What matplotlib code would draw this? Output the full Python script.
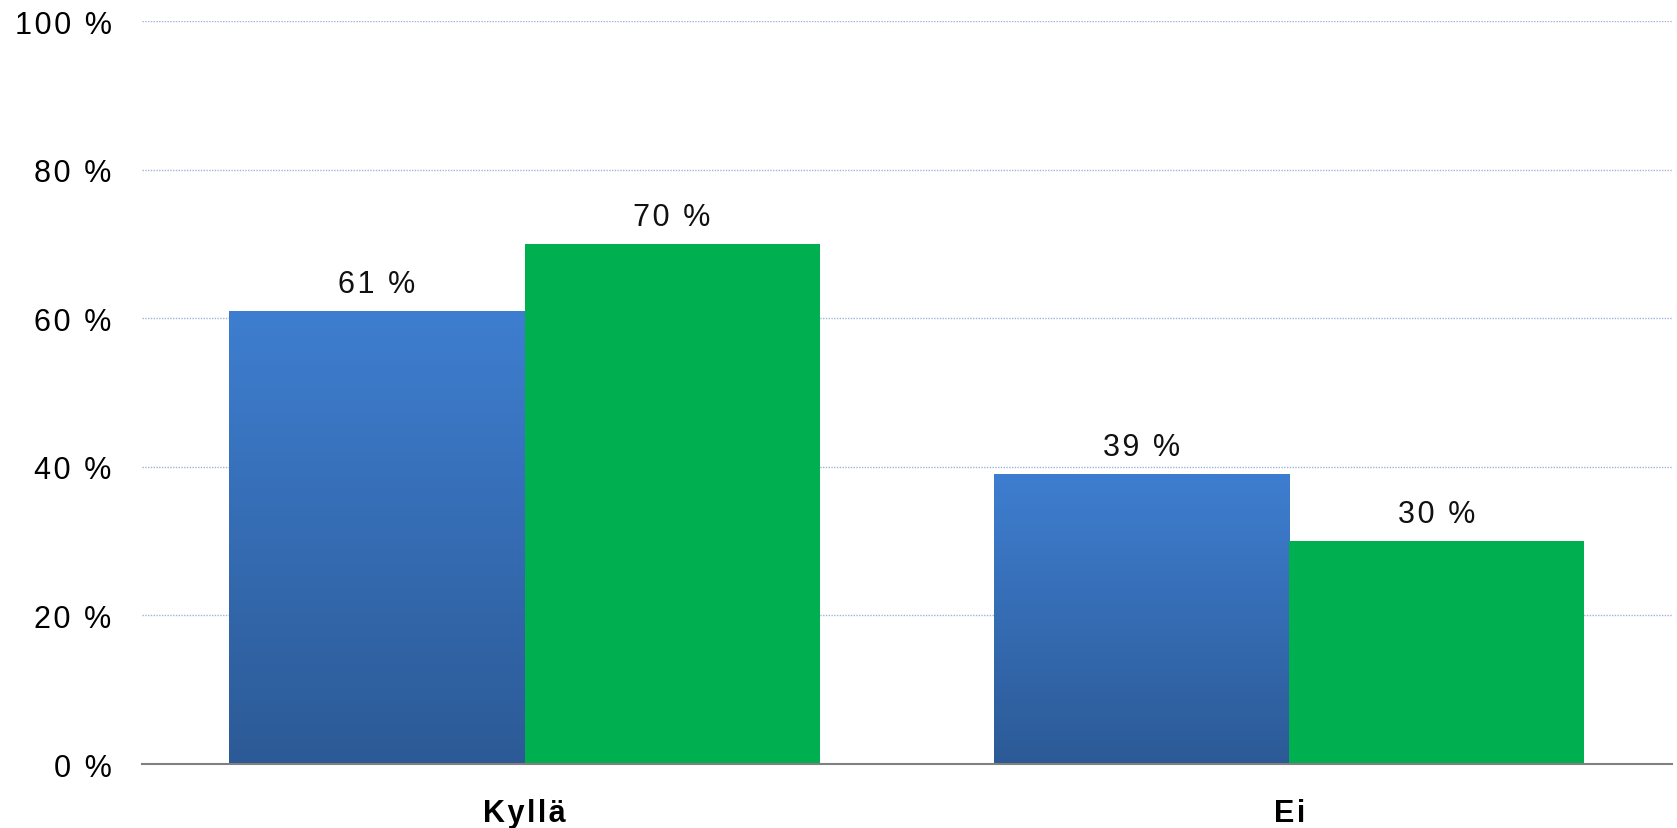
import matplotlib
matplotlib.use("Agg")
import matplotlib.pyplot as plt
import numpy as np
from matplotlib.colors import LinearSegmentedColormap

categories = ["Kyllä", "Ei"]
series_a = [61, 39]
series_b = [70, 30]
yticks = [0, 20, 40, 60, 80, 100]
ytick_labels = ["0 %", "20 %", "40 %", "60 %", "80 %", "100 %"]

plt.rcParams['font.family'] = ['Liberation Sans', 'DejaVu Sans']

HS = "\u200a"


def spaced(s):
    return HS.join(s)


fig = plt.figure(figsize=(16.77, 8.29), dpi=100)
ax = fig.add_axes([0.0848, 0.0772, 0.9120, 0.8957])

x = np.arange(len(categories))
w = 0.386
blue_cmap = LinearSegmentedColormap.from_list("bl", ["#2C5A96", "#3E7ED0"])
green = "#00B050"

ax.set_xlim(-0.5, len(categories) - 0.5)
ax.set_ylim(0, 100)

for i in range(len(categories)):
    bar = ax.bar(x[i] - w / 2, series_a[i], width=w, color="none", zorder=2)[0]
    grad = np.linspace(0, 1, 256).reshape(-1, 1)
    im = ax.imshow(grad, cmap=blue_cmap, origin="lower", aspect="auto",
                   extent=[x[i] - w, x[i], 0, series_a[i]], zorder=2)
    im.set_clip_path(bar)
    ax.bar(x[i] + w / 2, series_b[i], width=w, color=green, zorder=2)
    ax.text(x[i] - w / 2, series_a[i] + 2.6, spaced(f"{series_a[i]} %"), ha="center",
            va="baseline", fontsize=22, color="#111111")
    ax.text(x[i] + w / 2, series_b[i] + 2.6, spaced(f"{series_b[i]} %"), ha="center",
            va="baseline", fontsize=22, color="#111111")
    ax.text(x[i], -0.0768, spaced(categories[i]), transform=ax.get_xaxis_transform(),
            ha="center", va="baseline", fontsize=22, fontweight="bold", color="#000000")

ax.set_xlim(-0.5, len(categories) - 0.5)
ax.set_ylim(0, 100)
ax.set_yticks(yticks)
ax.set_yticklabels([spaced(t) for t in ytick_labels], fontsize=22)
ax.set_xticks(x)
ax.set_xticklabels([])
ax.tick_params(axis="x", length=0)
ax.tick_params(axis="y", length=0, pad=22)

for t in yticks[1:]:
    ax.axhline(t, color="#9DB5D8", linestyle=(0, (1, 1)), linewidth=1.0, zorder=1)
for s in ["top", "right", "left"]:
    ax.spines[s].set_visible(False)
ax.spines["bottom"].set_color("#808080")
ax.spines["bottom"].set_linewidth(1.5)
ax.spines["bottom"].set_zorder(3)

fig.savefig("out.png", dpi=100)
